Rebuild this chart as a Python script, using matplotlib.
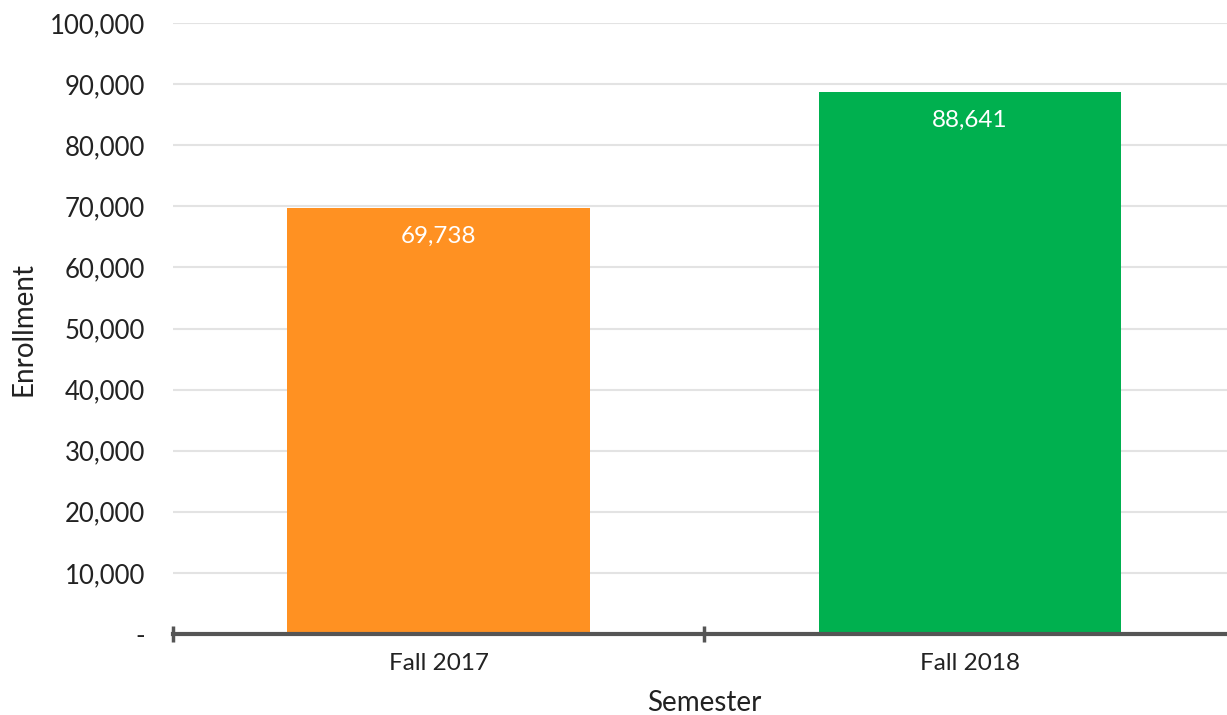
import matplotlib
matplotlib.use("Agg")
import matplotlib.pyplot as plt
from matplotlib.ticker import FuncFormatter, FixedLocator

semesters = ["Fall 2017", "Fall 2018"]
enrollment = [69738, 88641]
bar_colors = ["#ff9122", "#00b04f"]
yticks = list(range(0, 100001, 10000))

plt.rcParams["font.family"] = ["Lato", "DejaVu Sans"]

fig = plt.figure(figsize=(12.27, 7.15), dpi=100)
ax = fig.add_axes([0.141, 0.1133, 0.866, 0.8545])

x = range(len(semesters))
ax.bar(x, enrollment, width=0.57, color=bar_colors, zorder=2)
for xi, v in zip(x, enrollment):
    ax.text(xi, v - 2900, f"{v:,}", ha="center", va="top", color="white", fontsize=17.5)

ax.set_xlim(-0.5, 1.5)
ax.set_ylim(0, 100000)
ax.set_yticks(yticks)
ax.yaxis.set_major_formatter(FuncFormatter(lambda v, p: "-" if v == 0 else f"{int(v):,}"))
ax.grid(axis="y", color="#e3e3e3", linewidth=1.5, zorder=0)
ax.set_xticks(list(x))
ax.set_xticklabels(semesters)
ax.xaxis.set_minor_locator(FixedLocator([-0.5, 0.5, 1.5]))
ax.tick_params(axis="x", which="major", length=0, pad=14, labelsize=17.5, colors="#222222")
ax.tick_params(axis="x", which="minor", length=12, width=2.5, direction="inout", color="#555555")
ax.tick_params(axis="y", length=0, pad=20, labelsize=18.5, colors="#222222")

for s in ["top", "right", "left"]:
    ax.spines[s].set_visible(False)
ax.spines["bottom"].set_color("#555555")
ax.spines["bottom"].set_linewidth(3)
ax.spines["bottom"].set_zorder(3)

ax.set_xlabel("Semester", fontsize=20, color="#222222", labelpad=11)
ax.set_ylabel("Enrollment", fontsize=20, color="#222222", labelpad=10)

fig.savefig("out.png", dpi=100)
